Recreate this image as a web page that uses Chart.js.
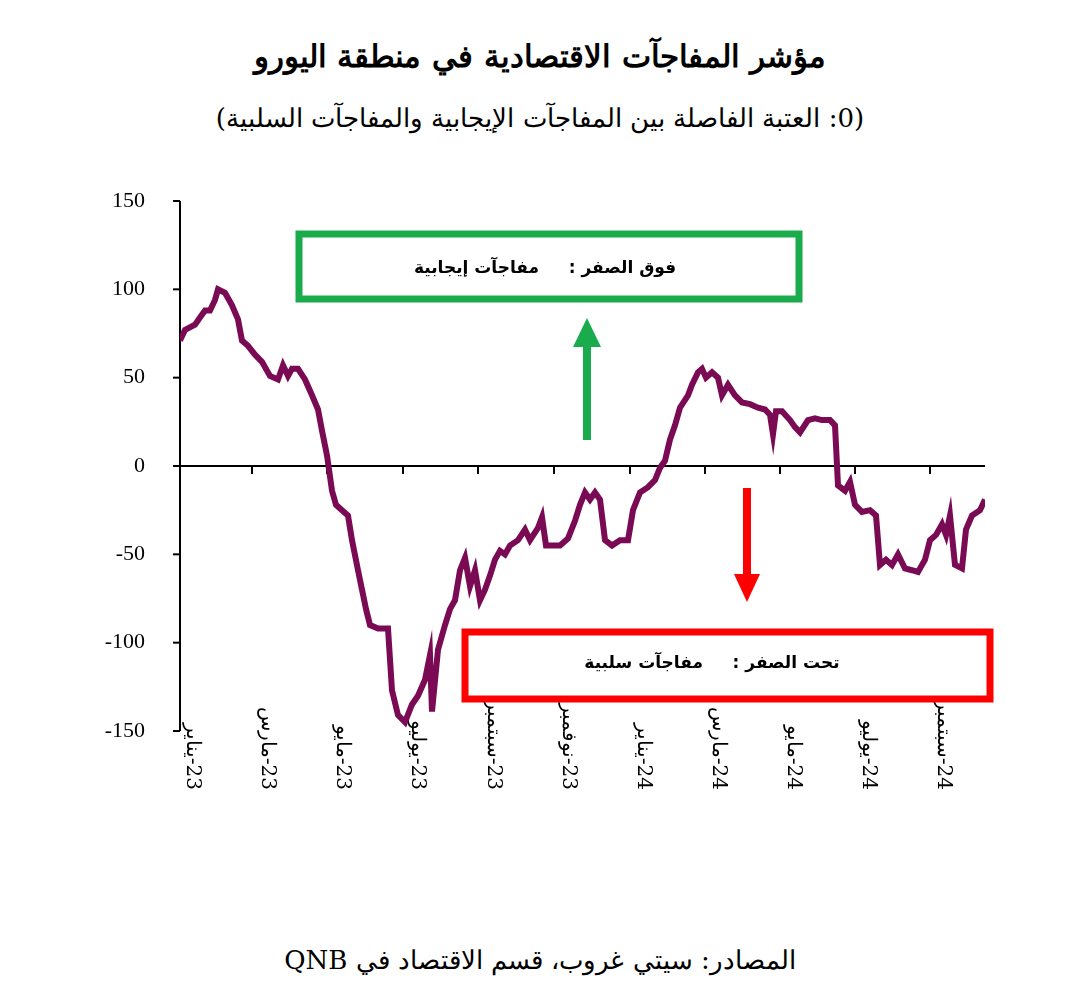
<!DOCTYPE html>
<html><head><meta charset="utf-8">
<script src="https://cdn.jsdelivr.net/npm/chart.js@4/dist/chart.umd.min.js"></script>
<style>
body{margin:0;background:#fff;width:1080px;height:1006px;position:relative;overflow:hidden}
.t{position:absolute;left:0;width:1080px;text-align:center;direction:rtl;font-family:"DejaVu Serif","Liberation Serif",serif}
#wrap{position:absolute;left:0;top:0;width:1080px;height:1006px}
</style></head><body>
<div class="t" style="top:38px;font-size:31px;font-weight:bold">مؤشر المفاجآت الاقتصادية في منطقة اليورو</div>
<div class="t" style="top:103px;font-size:26px">(0: العتبة الفاصلة بين المفاجآت الإيجابية والمفاجآت السلبية)</div>
<div class="t" style="top:945px;font-size:26px">المصادر: سيتي غروب، قسم الاقتصاد في QNB</div>
<div id="wrap"><canvas id="c" width="1080" height="1006"></canvas></div>
<script>
// time index (about 0.83 day per unit), index value
const t = [0,5,15,20,25,30,35,38,45,52,58,62,68,75,82,90,98,103,108,112,118,125,132,138,142,147,152,156,162,168,172,178,182,186,190,198,208,212,218,225,232,238,245,250,252,258,265,270,275,280,285,290,295,300,305,310,315,320,325,330,338,345,350,358,362,366,372,380,388,395,400,405,410,415,420,425,432,440,448,453,460,468,475,480,485,490,495,500,508,512,518,522,526,532,538,542,548,555,562,570,578,585,590,593,596,602,610,615,620,628,635,642,650,655,658,665,670,675,682,690,696,700,706,712,718,725,732,738,745,750,756,762,766,770,775,782,786,792,800,805];
const vals = [71,77,80,84,88,88,94,100,98,91,83,71,68,63,59,51,49,57,51,55,55,49,40,32,20,6,-14,-22,-25,-28,-42,-59,-70,-81,-90,-92,-92,-127,-141,-145,-135,-130,-121,-107,-139,-104,-90,-81,-76,-59,-52,-68,-59,-76,-70,-62,-53,-48,-50,-45,-42,-36,-42,-35,-29,-45,-45,-45,-41,-31,-22,-15,-19,-15,-19,-42,-45,-42,-42,-25,-15,-12,-8,-1,3,15,23,33,40,46,53,55,50,53,50,40,46,40,36,35,33,32,29,18,31,31,26,22,19,26,27,26,26,23,-11,-14,-9,-22,-26,-25,-28,-56,-53,-56,-50,-58,-59,-60,-53,-42,-39,-33,-39,-28,-56,-58,-36,-28,-25,-19];
const yTicks = [150,100,50,0,-50,-100,-150];
const xTickMarks = [72,147,223,298,374,450,525,600,675,750];
const monthLabels = ['23-يناير','23-مارس','23-مايو','23-يوليو','23-سبتمبر','23-نوفمبر','24-يناير','24-مارس','24-مايو','24-يوليو','24-سبتمبر'];
const labelPos = [12,87,162,237,313,388,463,538,613,688,763];

const decor = {
  id:'decor',
  beforeDatasetsDraw(ch){
    const c=ch.ctx, x=ch.scales.x, y=ch.scales.y, a=ch.chartArea;
    c.save();
    c.strokeStyle='#000'; c.lineWidth=2;
    c.beginPath(); c.moveTo(a.left,a.top); c.lineTo(a.left,a.bottom); c.stroke();
    const y0=y.getPixelForValue(0);
    c.beginPath(); c.moveTo(a.left,y0); c.lineTo(a.right,y0); c.stroke();
    c.font='22px "Liberation Serif", serif'; c.fillStyle='#000'; c.textAlign='right'; c.textBaseline='middle';
    yTicks.forEach(v=>{const py=y.getPixelForValue(v);
      c.beginPath(); c.moveTo(a.left-7,py); c.lineTo(a.left,py); c.stroke();
      c.fillText(String(v),a.left-35,py);});
    xTickMarks.forEach(v=>{const px=x.getPixelForValue(v);
      c.beginPath(); c.moveTo(px,y0); c.lineTo(px,y0+8); c.stroke();});
    c.font='20px "DejaVu Serif", serif'; c.textAlign='left';
    monthLabels.forEach((s,i)=>{const px=x.getPixelForValue(labelPos[i]);
      c.save(); c.translate(px,790); c.rotate(Math.PI/2); c.direction='rtl'; c.textAlign='right'; c.fillText(s,0,0); c.restore();});
    // boxes
    c.lineWidth=7;
    c.strokeStyle='#1aac4c'; c.strokeRect(299,234,500,65);
    c.strokeStyle='#ff0000'; c.strokeRect(465,632,525,67);
    c.font='bold 17px "DejaVu Sans", sans-serif'; c.textAlign='center'; c.direction='rtl';
    c.fillText('فوق الصفر :     مفاجآت إيجابية',545,269);
    c.fillText('تحت الصفر :     مفاجآت سلبية',712,664);
    // arrows
    c.fillStyle='#1aac4c'; c.fillRect(583,345,8,95);
    c.beginPath(); c.moveTo(573,347); c.lineTo(601,347); c.lineTo(587,318); c.fill();
    c.fillStyle='#ff0000'; c.fillRect(743,488,8,88);
    c.beginPath(); c.moveTo(734,574); c.lineTo(760,574); c.lineTo(747,602); c.fill();
    c.restore();
  }
};

new Chart(document.getElementById('c'),{
  type:'line',
  data:{datasets:[{data:t.map((v,i)=>({x:v,y:vals[i]})),borderColor:'#7b0a55',borderWidth:6,pointRadius:0,tension:0}]},
  options:{responsive:false,animation:false,
    layout:{padding:{left:180,right:95,top:201,bottom:275}},
    plugins:{legend:{display:false},tooltip:{enabled:false}},
    scales:{x:{type:'linear',min:0,max:805,display:false},y:{min:-150,max:150,display:false}}},
  plugins:[decor]
});
</script></body></html>
